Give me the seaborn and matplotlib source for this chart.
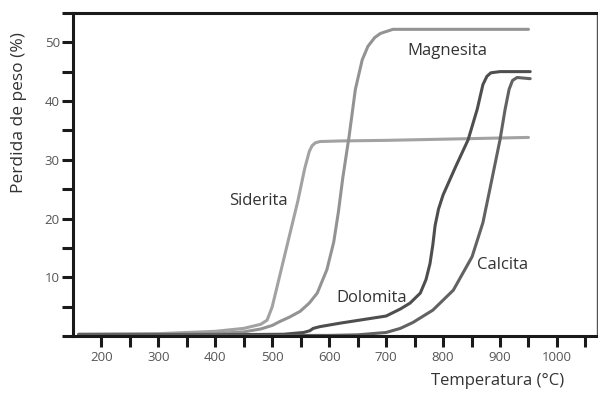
import matplotlib
matplotlib.use("Agg")
import matplotlib.pyplot as plt
import seaborn as sns
import pandas as pd
import numpy as np

sns.set_style("white")
plt.rcParams['font.family'] = ['Open Sans', 'DejaVu Sans']

# Data (temperature in °C, weight loss in %)
sid_t = [160, 300, 400, 450, 480, 491, 500, 515, 530, 545, 557, 565, 570, 576, 584, 620, 700, 800, 950]
sid_w = [0.3, 0.4, 0.8, 1.3, 2.0, 2.7, 5.0, 11.0, 17.0, 23.0, 28.5, 31.4, 32.4, 32.9, 33.1, 33.2, 33.3, 33.5, 33.8]

mag_t = [160, 300, 400, 450, 480, 500, 514, 530, 549, 565, 579, 596, 608, 616, 624, 635, 646, 658, 668, 680, 690, 712, 800, 950]
mag_w = [0.3, 0.3, 0.4, 0.7, 1.2, 1.8, 2.5, 3.2, 4.2, 5.6, 7.3, 11.3, 16.0, 21.0, 27.0, 34.0, 42.0, 47.0, 49.3, 50.8, 51.5, 52.2, 52.2, 52.2]

dol_t = [160, 400, 520, 555, 566, 572, 584, 620, 660, 700, 725, 742, 760, 770, 777, 782, 786, 792, 800, 822, 844, 860, 870, 877, 884, 900, 953]
dol_w = [0.2, 0.2, 0.3, 0.6, 0.9, 1.3, 1.6, 2.2, 2.8, 3.4, 4.6, 5.6, 7.3, 9.6, 12.3, 15.5, 18.8, 21.6, 24.0, 28.8, 33.4, 38.6, 42.8, 44.2, 44.8, 45.0, 45.0]

cal_t = [160, 600, 650, 700, 725, 747, 782, 818, 851, 870, 882, 900, 909, 916, 922, 930, 953]
cal_w = [0.1, 0.1, 0.2, 0.6, 1.3, 2.3, 4.4, 7.8, 13.5, 19.3, 24.9, 33.4, 38.6, 42.0, 43.5, 44.0, 43.8]

names = ["Siderita", "Magnesita", "Dolomita", "Calcita"]
colors = ["#a2a2a2", "#939393", "#4e4e4e", "#626262"]
label_x = [475, 807, 675, 905]
label_y = [22.9, 48.5, 6.5, 12.1]

frames = []
for n, t, w in zip(names, [sid_t, mag_t, dol_t, cal_t], [sid_w, mag_w, dol_w, cal_w]):
    frames.append(pd.DataFrame({"T": t, "W": w, "Mineral": n}))
df = pd.concat(frames, ignore_index=True)

fig = plt.figure(figsize=(5.98, 3.96), dpi=100)
ax = fig.add_axes([0.122, 0.1515, 0.876, 0.816])

sns.lineplot(data=df, x="T", y="W", hue="Mineral", palette=dict(zip(names, colors)),
             hue_order=names, sort=False, estimator=None, linewidth=2.2, ax=ax, legend=False,
             solid_joinstyle="round", solid_capstyle="round")

ax.set_xlim(150, 1070)
ax.set_ylim(0, 55)

xt = np.arange(200, 1051, 50)
ax.set_xticks(xt)
ax.set_xticklabels([str(v) if v % 100 == 0 else "" for v in xt], fontsize=9.5, color="#555555")
yt = np.arange(0, 56, 5)
ax.set_yticks(yt)
ax.set_yticklabels([str(v) if (v % 10 == 0 and v > 0) else "" for v in yt], fontsize=9.5, color="#555555")
ax.tick_params(axis="both", which="major", bottom=True, left=True, direction="out",
               length=8, width=2.2, color="#1a1a1a", pad=1.5)
ax.tick_params(axis="x", pad=3)

for s in ["left", "bottom", "top"]:
    ax.spines[s].set_color("#1a1a1a")
    ax.spines[s].set_linewidth(2.2)
ax.spines["right"].set_color("#555555")
ax.spines["right"].set_linewidth(1.0)

ax.set_xlabel("Temperatura (°C)", fontsize=12, color="#333333")
ax.xaxis.set_label_coords(0.81, -0.115)
ax.set_ylabel("Perdida de peso (%)", fontsize=12.5, color="#333333")
ax.yaxis.set_label_coords(-0.087, 0.69)

for n, lx, ly in zip(names, label_x, label_y):
    ax.text(lx, ly, n, fontsize=12, color="#333333", ha="center", va="center")

fig.savefig("out.png", dpi=100)
